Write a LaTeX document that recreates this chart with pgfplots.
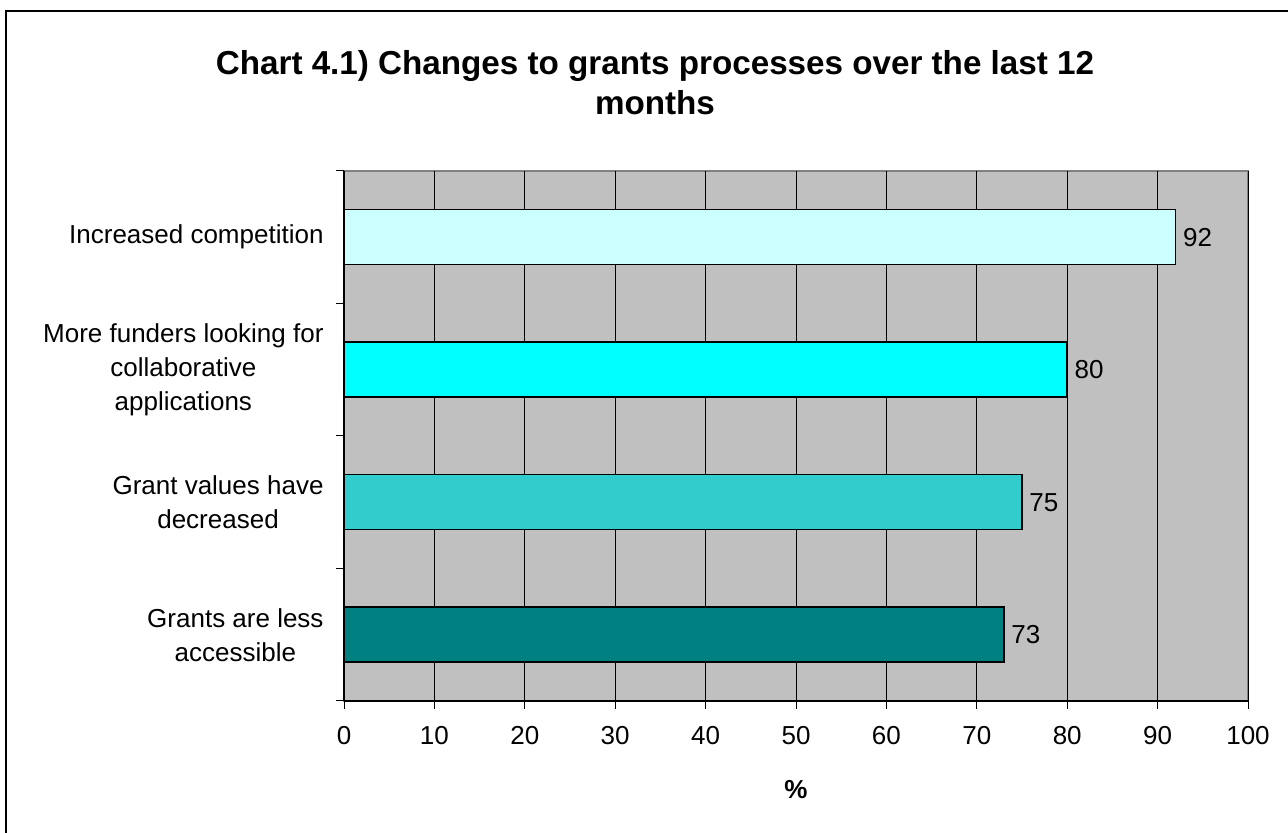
\documentclass[border=0pt]{standalone}
\usepackage{fontspec}
\setmainfont{Liberation Sans}
\usepackage{pgfplots}
\pgfplotsset{compat=1.18}

\definecolor{plotbg}{HTML}{C0C0C0}
\definecolor{barA}{HTML}{CCFFFF}
\definecolor{barB}{HTML}{00FFFF}
\definecolor{barC}{HTML}{33CCCC}
\definecolor{barD}{HTML}{008080}

\begin{document}
\begin{tikzpicture}
\useasboundingbox (0,0) rectangle (644pt,416.5pt);
\draw[line width=1.2pt] (3pt,0) -- (3pt,411pt) -- (644pt,411pt);

% anchor=base sits on the last line here
\node[anchor=base, align=center, font=\fontsize{16.6}{20}\selectfont\bfseries]
  at (327.5pt,359pt) {Chart 4.1) Changes to grants processes over the last 12\\months};

\begin{axis}[
    at={(172pt,66pt)}, anchor=south west,
    scale only axis, width=452pt, height=265pt,
    xbar, bar width=27.5pt,
    xmin=0, xmax=100, ymin=0.5, ymax=4.5,
    axis lines*=left,
    axis line style={black, line width=0.6pt},
    axis background/.style={fill=plotbg, draw=gray, line width=0.75pt},
    xtick={0,10,...,100},
    xmajorgrids, major grid style={black, line width=0.5pt},
    tick align=outside, major tick length=4pt,
    tick style={black, line width=0.5pt},
    /pgf/number format/assume math mode=true,
    ytick={0.5,1.5,2.5,3.5,4.5}, yticklabels={},
    extra y ticks={1,2,3,4},
    extra y tick labels={{Grants are less\\accessible},
      {Grant values have\\decreased},
      {More funders looking for\\collaborative\\applications},
      {Increased competition}},
    extra y tick style={major tick length=0pt,
      yticklabel style={align=center, xshift=-6.7pt}},
    yticklabel style={font=\fontsize{13}{17}\selectfont},
    xticklabel style={font=\fontsize{13}{15}\selectfont, yshift=-5pt},
    xlabel={\textbf{\%}},
    xlabel style={font=\fontsize{13}{15}\selectfont, at={(axis description cs:0.5,0)},
      anchor=base, yshift=-49pt},
    nodes near coords,
    nodes near coords style={font=\fontsize{13}{15}\selectfont, black},
    every axis plot/.append style={draw=black, line width=0.75pt},
  ]
\addplot[fill=barD, bar shift=0pt] coordinates {(73,1)};
\addplot[fill=barC, bar shift=0pt] coordinates {(75,2)};
\addplot[fill=barB, bar shift=0pt] coordinates {(80,3)};
\addplot[fill=barA, bar shift=0pt] coordinates {(92,4)};
\end{axis}
\end{tikzpicture}
\end{document}
